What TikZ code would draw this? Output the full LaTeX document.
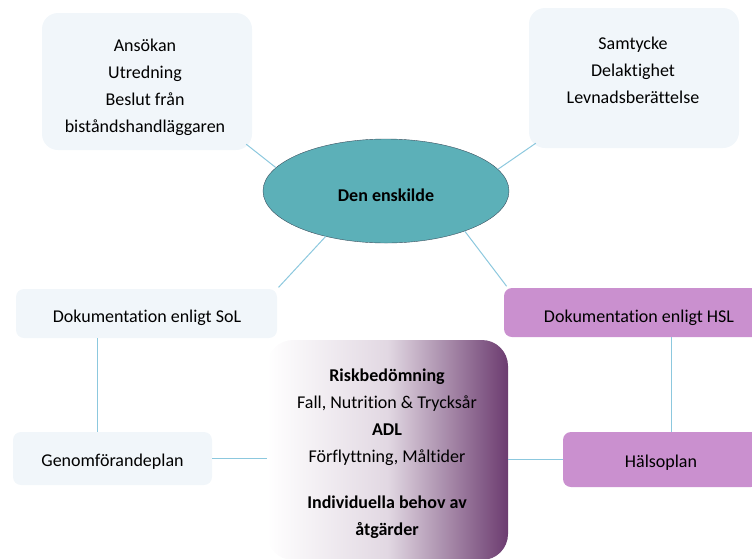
\documentclass[tikz,border=0pt]{standalone}
\usepackage{fontspec}
\setmainfont{Carlito}[Ligatures=NoCommon]
\usetikzlibrary{shapes.geometric}

\definecolor{softgrey}{RGB}{241,246,250}
\definecolor{tealfill}{RGB}{92,176,184}
\definecolor{tealedge}{RGB}{60,80,95}
\definecolor{pinkfill}{RGB}{202,144,207}
\definecolor{deeppurple}{RGB}{108,60,112}
\definecolor{linkblue}{RGB}{140,200,222}

\tikzset{
  softbox/.style={rectangle, rounded corners=16pt, fill=softgrey},
  smallbox/.style={rectangle, rounded corners=8pt, fill=softgrey},
  pinkbox/.style={rectangle, rounded corners=8pt, fill=pinkfill},
  boxtext/.style={align=center, font=\fontsize{18}{27}\selectfont},
  link/.style={draw=linkblue, line width=1pt}
}

\begin{document}
\begin{tikzpicture}[x=1pt, y=-1pt]
\useasboundingbox (0,0) rectangle (752,558);

% Top boxes
\node[softbox, minimum width=210pt, minimum height=137pt] (process) at (147,81.5) {};
\node[boxtext] (processtxt) at (145,87) {Ansökan\\Utredning\\Beslut från\\biståndshandläggaren};

\node[softbox, minimum width=210pt, minimum height=140pt] (consent) at (634,78) {};
\node[boxtext] (consenttxt) at (633,70) {Samtycke\\Delaktighet\\Levnadsberättelse};

% Centre
\node[ellipse, draw=tealedge, fill=tealfill, minimum width=246pt, minimum height=104pt] (person) at (386,191) {};
\node[boxtext] (persontxt) at (386,195) {\textbf{Den enskilde}};

% Documentation
\node[smallbox, minimum width=261pt, minimum height=49pt] (sol) at (146.5,313.5) {};
\node[boxtext] (soltxt) at (147,318) {Dokumentation enligt SoL};

\node[pinkbox, minimum width=270pt, minimum height=49pt] (hsl) at (639,312.5) {};
\node[boxtext] (hsltxt) at (639,318) {Dokumentation enligt HSL};

% Plans
\node[smallbox, minimum width=199pt, minimum height=53pt] (gfp) at (112.5,458.5) {};
\node[boxtext] (gfptxt) at (112.5,462) {Genomförandeplan};

\node[pinkbox, minimum width=196pt, minimum height=55pt] (hp) at (661,459.5) {};
\node[boxtext] (hptxt) at (661,463) {Hälsoplan};

% Needs
\node[rectangle, rounded corners=26pt, left color=white, right color=deeppurple, middle color=white!80!deeppurple, minimum width=241pt, minimum height=220pt] (needs) at (387.5,450) {};
\node[boxtext] (needstxt) at (387,454) {\textbf{Riskbedömning}\\Fall, Nutrition \& Trycksår\\\textbf{ADL}\\Förflyttning, Måltider\\[19pt]\textbf{Individuella behov av}\\\textbf{åtgärder}};

% Links
\draw[link] (person.168) -- ([xshift=-6pt, yshift=6pt]process.south east);
\draw[link] (person.11) -- ([xshift=7pt, yshift=5pt]consent.south west);
\draw[link, shorten >=2pt] (person.217) -- (sol.north east);
\draw[link, shorten >=2pt] (person.-27) -- ([xshift=4pt]hsl.north west);
\draw[link] ([xshift=-49.5pt]sol.south) -- ([xshift=-49.5pt]sol.south |- gfp.north);
\draw[link] (gfp.east) -- (gfp.east -| needs.west);
\draw[link] (hp.west -| needs.east) -- (hp.west);
\draw[link] ([xshift=32pt]hsl.south) -- ([xshift=32pt]hsl.south |- hp.north);

\end{tikzpicture}
\end{document}
